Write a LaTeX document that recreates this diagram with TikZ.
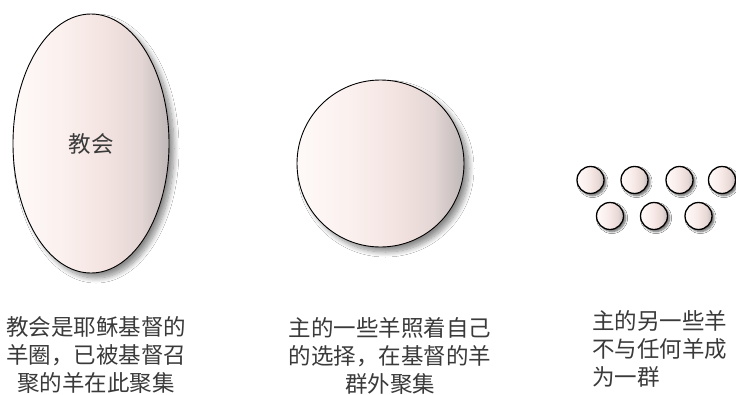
\documentclass[tikz,border=0pt]{standalone}
\usepackage{fontspec}
\newfontfamily\cjk{Noto Sans CJK SC}
\usetikzlibrary{shapes.geometric,shadows.blur}
\definecolor{shA}{HTML}{FEF9F8}
\definecolor{shB}{HTML}{FBF1EF}
\definecolor{shC}{HTML}{F3E3E0}
\definecolor{shD}{HTML}{E3D6D4}
\definecolor{shE}{HTML}{BEB8B8}
\definecolor{txt}{HTML}{3A3A3A}
\pgfdeclarehorizontalshading{blobshade}{100bp}{color(0bp)=(shA); color(25bp)=(shA); color(40bp)=(shB); color(55bp)=(shC); color(66bp)=(shD); color(75bp)=(shE); color(100bp)=(shE)}
\tikzset{
  blob/.style={draw=black, line width=0.9pt, inner sep=0pt, shading=blobshade,
    blur shadow={shadow xshift=5pt, shadow yshift=-5pt, shadow blur steps=10, shadow blur radius=5pt, shadow opacity=45}},
  sheep/.style={blob, circle, minimum size=27pt, line width=1.3pt,
    blur shadow={shadow xshift=2pt, shadow yshift=-2pt, shadow blur steps=6, shadow blur radius=2pt, shadow opacity=35}},
  caption/.style={font=\cjk\fontsize{22.5}{28}\selectfont, text=txt, inner sep=0pt}
}
\begin{document}
\begin{tikzpicture}[x=1pt,y=-1pt]
\path[use as bounding box, fill=white] (0,0) rectangle (736,394);
\node[blob, ellipse, minimum width=156pt, minimum height=259pt, caption, draw=black, line width=0.9pt, text=txt] (church) at (91,143.5) {教会};
\node[blob, circle, minimum size=167pt] (flock) at (380.5,163.5) {};
\node[sheep] (s1) at (590.5,180) {};
\node[sheep] (s2) at (634.5,180) {};
\node[sheep] (s3) at (679.5,180) {};
\node[sheep] (s4) at (722,180) {};
\node[sheep] (s5) at (610,216) {};
\node[sheep] (s6) at (654,216) {};
\node[sheep] (s7) at (698.5,216) {};
\node[caption, align=center] (t1) at (96,355) {教会是耶稣基督的\\羊圈，已被基督召\\聚的羊在此聚集};
\node[caption, align=center] (t2) at (390,356) {主的一些羊照着自己\\的选择，在基督的羊\\群外聚集};
\node[caption, align=left, anchor=west] (t3) at (592,349) {主的另一些羊\\不与任何羊成\\为一群};
\end{tikzpicture}
\end{document}
